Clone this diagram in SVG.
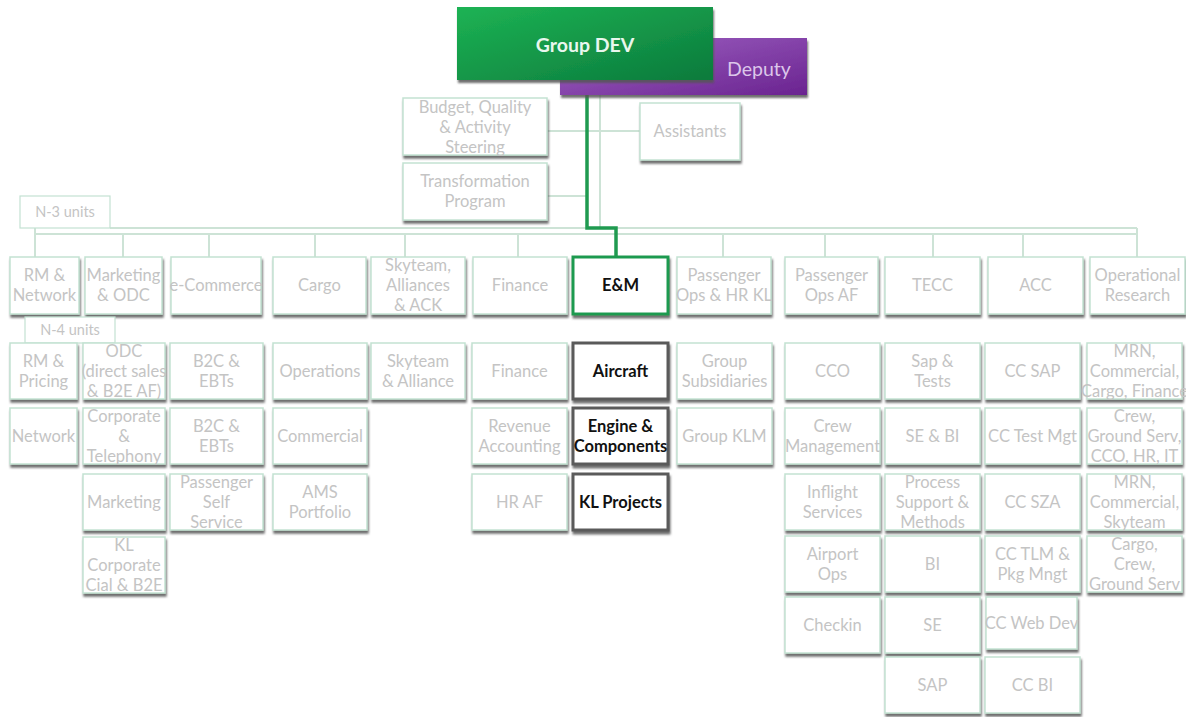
<svg xmlns="http://www.w3.org/2000/svg" width="1186" height="717" viewBox="0 0 1186 717">
  <defs>
    <linearGradient id="gDev" x1="0" y1="0" x2="1" y2="1">
      <stop offset="0" stop-color="#1db354"/>
      <stop offset="1" stop-color="#0b7a3c"/>
    </linearGradient>
    <linearGradient id="gDep" x1="0" y1="0" x2="1" y2="1">
      <stop offset="0" stop-color="#a064c4"/>
      <stop offset="1" stop-color="#6a2390"/>
    </linearGradient>
    <filter id="sh" x="-10%" y="-10%" width="125%" height="135%">
      <feDropShadow dx="1" dy="3" stdDeviation="1.3" flood-color="#555" flood-opacity="0.85"/>
    </filter>
    <style>
      .box { fill: #ffffff; stroke: #c3e2d2; stroke-width: 1.5; filter: url(#sh); }
      .em { fill: #ffffff; stroke: #1f9a50; stroke-width: 3; filter: url(#sh); }
      .sel { fill: #ffffff; stroke: #5a5a5a; stroke-width: 3; filter: url(#sh); }
      text { font-family: "Lato", "Carlito", "Liberation Sans", sans-serif; font-size: 16.5px; text-anchor: middle; }
      .lbl { fill: #c4c4c4; }
      .bold { fill: #111111; font-weight: bold; }
      .link { fill: none; stroke: #cde3d6; stroke-width: 2; }
      .main { fill: none; stroke: #1f9a50; stroke-width: 3.5; }
    </style>
  </defs>

  <!-- connectors -->
  <g id="connectors">
    <line class="link" x1="600" y1="95" x2="600" y2="228"/>
    <line class="link" x1="547" y1="131" x2="640" y2="131"/>
    <line class="link" x1="547" y1="196" x2="587" y2="196"/>
    <line class="link" x1="110" y1="228" x2="1137" y2="228"/>
    <line class="link" x1="35" y1="234" x2="1137" y2="234"/>
    <line class="link" x1="35" y1="228" x2="35" y2="257"/>
    <line class="link" x1="123" y1="234" x2="123" y2="257"/>
    <line class="link" x1="209" y1="234" x2="209" y2="257"/>
    <line class="link" x1="315" y1="234" x2="315" y2="257"/>
    <line class="link" x1="405" y1="234" x2="405" y2="257"/>
    <line class="link" x1="518" y1="234" x2="518" y2="257"/>
    <line class="link" x1="723" y1="234" x2="723" y2="257"/>
    <line class="link" x1="825" y1="234" x2="825" y2="257"/>
    <line class="link" x1="933" y1="234" x2="933" y2="257"/>
    <line class="link" x1="1023" y1="234" x2="1023" y2="257"/>
    <line class="link" x1="1137" y1="228" x2="1137" y2="257"/>
    <path class="main" d="M587 80 V228 H616 V257"/>
  </g>

  <!-- head -->
  <g id="deputy">
    <rect x="560" y="38" width="247" height="57" fill="url(#gDep)" filter="url(#sh)"/>
    <text x="759" y="76" fill="#dcc6ea" style="font-size:19.5px">Deputy</text>
  </g>
  <g id="group-dev">
    <rect x="457" y="7" width="256" height="73" fill="url(#gDev)" filter="url(#sh)"/>
    <text x="585" y="52" style="font-size:19.5px;font-weight:bold" fill="#e9f7ee">Group DEV</text>
  </g>

  <g id="budget">
    <rect class="box" x="403" y="98" width="144" height="57"/>
    <text class="lbl" x="475" y="113">Budget, Quality</text>
    <text class="lbl" x="475" y="133">&amp; Activity</text>
    <text class="lbl" x="475" y="153">Steering</text>
  </g>
  <g id="transformation">
    <rect class="box" x="403" y="163" width="144" height="57"/>
    <text class="lbl" x="475" y="187">Transformation</text>
    <text class="lbl" x="475" y="207">Program</text>
  </g>
  <g id="assistants">
    <rect class="box" x="640" y="103" width="100" height="57"/>
    <text class="lbl" x="690" y="137">Assistants</text>
  </g>

  <g id="n3-units">
    <rect x="20" y="196" width="90" height="32" fill="#fff" stroke="#c3e2d2" stroke-width="1.2"/>
    <text class="lbl" x="65" y="217" style="font-size:14.5px">N-3 units</text>
  </g>

  <!-- N-3 units row -->
  <g id="rm-network">
    <rect class="box" x="10" y="257" width="69" height="57"/>
    <text class="lbl" x="44.5" y="281">RM &amp;</text>
    <text class="lbl" x="44.5" y="301">Network</text>
  </g>
  <g id="marketing-odc">
    <rect class="box" x="85" y="257" width="77" height="57"/>
    <text class="lbl" x="123.5" y="281">Marketing</text>
    <text class="lbl" x="123.5" y="301">&amp; ODC</text>
  </g>
  <g id="e-commerce">
    <rect class="box" x="171" y="257" width="90" height="57"/>
    <text class="lbl" x="216" y="291">e-Commerce</text>
  </g>
  <g id="cargo">
    <rect class="box" x="273" y="257" width="93" height="57"/>
    <text class="lbl" x="319.5" y="291">Cargo</text>
  </g>
  <g id="skyteam-ack">
    <rect class="box" x="371" y="257" width="94" height="57"/>
    <text class="lbl" x="418" y="271">Skyteam,</text>
    <text class="lbl" x="418" y="291">Alliances</text>
    <text class="lbl" x="418" y="311">&amp; ACK</text>
  </g>
  <g id="finance">
    <rect class="box" x="473" y="257" width="94" height="57"/>
    <text class="lbl" x="520" y="291">Finance</text>
  </g>
  <g id="em">
    <rect class="em" x="573" y="257" width="95" height="57"/>
    <text class="bold" x="620.5" y="291">E&amp;M</text>
  </g>
  <g id="pax-ops-hr-kl">
    <rect class="box" x="677" y="257" width="94" height="57"/>
    <text class="lbl" x="724" y="281">Passenger</text>
    <text class="lbl" x="724" y="301">Ops &amp; HR KL</text>
  </g>
  <g id="pax-ops-af">
    <rect class="box" x="785" y="257" width="93" height="57"/>
    <text class="lbl" x="831.5" y="281">Passenger</text>
    <text class="lbl" x="831.5" y="301">Ops AF</text>
  </g>
  <g id="tecc">
    <rect class="box" x="885" y="257" width="95" height="57"/>
    <text class="lbl" x="932.5" y="291">TECC</text>
  </g>
  <g id="acc">
    <rect class="box" x="988" y="257" width="95" height="57"/>
    <text class="lbl" x="1035.5" y="291">ACC</text>
  </g>
  <g id="operational-research">
    <rect class="box" x="1090" y="257" width="95" height="57"/>
    <text class="lbl" x="1137.5" y="281">Operational</text>
    <text class="lbl" x="1137.5" y="301">Research</text>
  </g>

  <g id="n4-units">
    <rect x="25" y="317" width="90" height="26" fill="#fff" stroke="#c3e2d2" stroke-width="1.2"/>
    <text class="lbl" x="70" y="335" style="font-size:14.5px">N-4 units</text>
  </g>

  <!-- N-4 units: RM & Network -->
  <g id="rm-pricing">
    <rect class="box" x="10" y="343" width="67" height="56"/>
    <text class="lbl" x="43.5" y="366.5">RM &amp;</text>
    <text class="lbl" x="43.5" y="386.5">Pricing</text>
  </g>
  <g id="network">
    <rect class="box" x="10" y="408" width="67" height="56"/>
    <text class="lbl" x="43.5" y="441.5">Network</text>
  </g>

  <!-- N-4 units: Marketing & ODC -->
  <g id="odc">
    <rect class="box" x="83" y="343" width="82" height="56"/>
    <text class="lbl" x="124" y="356.5">ODC</text>
    <text class="lbl" x="124" y="376.5">(direct sales</text>
    <text class="lbl" x="124" y="396.5">&amp; B2E AF)</text>
  </g>
  <g id="corporate-telephony">
    <rect class="box" x="83" y="408" width="82" height="56"/>
    <text class="lbl" x="124" y="421.5">Corporate</text>
    <text class="lbl" x="124" y="441.5">&amp;</text>
    <text class="lbl" x="124" y="461.5">Telephony</text>
  </g>
  <g id="marketing">
    <rect class="box" x="83" y="474" width="82" height="56"/>
    <text class="lbl" x="124" y="507.5">Marketing</text>
  </g>
  <g id="kl-corporate">
    <rect class="box" x="83" y="537" width="82" height="56"/>
    <text class="lbl" x="124" y="550.5">KL</text>
    <text class="lbl" x="124" y="570.5">Corporate</text>
    <text class="lbl" x="124" y="590.5">Cial &amp; B2E</text>
  </g>

  <!-- N-4 units: e-Commerce -->
  <g id="b2c-ebts-1">
    <rect class="box" x="170" y="343" width="93" height="56"/>
    <text class="lbl" x="216.5" y="366.5">B2C &amp;</text>
    <text class="lbl" x="216.5" y="386.5">EBTs</text>
  </g>
  <g id="b2c-ebts-2">
    <rect class="box" x="170" y="408" width="93" height="56"/>
    <text class="lbl" x="216.5" y="431.5">B2C &amp;</text>
    <text class="lbl" x="216.5" y="451.5">EBTs</text>
  </g>
  <g id="pax-self-service">
    <rect class="box" x="170" y="474" width="93" height="56"/>
    <text class="lbl" x="216.5" y="487.5">Passenger</text>
    <text class="lbl" x="216.5" y="507.5">Self</text>
    <text class="lbl" x="216.5" y="527.5">Service</text>
  </g>

  <!-- N-4 units: Cargo -->
  <g id="operations">
    <rect class="box" x="273" y="343" width="94" height="56"/>
    <text class="lbl" x="320" y="376.5">Operations</text>
  </g>
  <g id="commercial">
    <rect class="box" x="273" y="408" width="94" height="56"/>
    <text class="lbl" x="320" y="441.5">Commercial</text>
  </g>
  <g id="ams-portfolio">
    <rect class="box" x="273" y="474" width="94" height="56"/>
    <text class="lbl" x="320" y="497.5">AMS</text>
    <text class="lbl" x="320" y="517.5">Portfolio</text>
  </g>

  <!-- N-4 units: Skyteam -->
  <g id="skyteam-alliance">
    <rect class="box" x="371" y="343" width="94" height="56"/>
    <text class="lbl" x="418" y="366.5">Skyteam</text>
    <text class="lbl" x="418" y="386.5">&amp; Alliance</text>
  </g>

  <!-- N-4 units: Finance -->
  <g id="finance-sub">
    <rect class="box" x="472" y="343" width="95" height="56"/>
    <text class="lbl" x="519.5" y="376.5">Finance</text>
  </g>
  <g id="revenue-accounting">
    <rect class="box" x="472" y="408" width="95" height="56"/>
    <text class="lbl" x="519.5" y="431.5">Revenue</text>
    <text class="lbl" x="519.5" y="451.5">Accounting</text>
  </g>
  <g id="hr-af">
    <rect class="box" x="472" y="474" width="95" height="56"/>
    <text class="lbl" x="519.5" y="507.5">HR AF</text>
  </g>

  <!-- N-4 units: E&M -->
  <g id="aircraft">
    <rect class="sel" x="573" y="343" width="95" height="56"/>
    <text class="bold" x="620.5" y="376.5">Aircraft</text>
  </g>
  <g id="engine-components">
    <rect class="sel" x="573" y="408" width="95" height="56"/>
    <text class="bold" x="620.5" y="431.5">Engine &amp;</text>
    <text class="bold" x="620.5" y="451.5">Components</text>
  </g>
  <g id="kl-projects">
    <rect class="sel" x="573" y="474" width="95" height="56"/>
    <text class="bold" x="620.5" y="507.5">KL Projects</text>
  </g>

  <!-- N-4 units: Passenger Ops & HR KL -->
  <g id="group-subsidiaries">
    <rect class="box" x="677" y="343" width="95" height="56"/>
    <text class="lbl" x="724.5" y="366.5">Group</text>
    <text class="lbl" x="724.5" y="386.5">Subsidiaries</text>
  </g>
  <g id="group-klm">
    <rect class="box" x="677" y="408" width="95" height="56"/>
    <text class="lbl" x="724.5" y="441.5">Group KLM</text>
  </g>

  <!-- N-4 units: Passenger Ops AF -->
  <g id="cco">
    <rect class="box" x="785" y="343" width="95" height="56"/>
    <text class="lbl" x="832.5" y="376.5">CCO</text>
  </g>
  <g id="crew-management">
    <rect class="box" x="785" y="408" width="95" height="56"/>
    <text class="lbl" x="832.5" y="431.5">Crew</text>
    <text class="lbl" x="832.5" y="451.5">Management</text>
  </g>
  <g id="inflight-services">
    <rect class="box" x="785" y="474" width="95" height="56"/>
    <text class="lbl" x="832.5" y="497.5">Inflight</text>
    <text class="lbl" x="832.5" y="517.5">Services</text>
  </g>
  <g id="airport-ops">
    <rect class="box" x="785" y="536" width="95" height="56"/>
    <text class="lbl" x="832.5" y="559.5">Airport</text>
    <text class="lbl" x="832.5" y="579.5">Ops</text>
  </g>
  <g id="checkin">
    <rect class="box" x="785" y="597" width="95" height="56"/>
    <text class="lbl" x="832.5" y="630.5">Checkin</text>
  </g>

  <!-- N-4 units: TECC -->
  <g id="sap-tests">
    <rect class="box" x="885" y="343" width="95" height="56"/>
    <text class="lbl" x="932.5" y="366.5">Sap &amp;</text>
    <text class="lbl" x="932.5" y="386.5">Tests</text>
  </g>
  <g id="se-bi">
    <rect class="box" x="885" y="408" width="95" height="56"/>
    <text class="lbl" x="932.5" y="441.5">SE &amp; BI</text>
  </g>
  <g id="process-support">
    <rect class="box" x="885" y="474" width="95" height="56"/>
    <text class="lbl" x="932.5" y="487.5">Process</text>
    <text class="lbl" x="932.5" y="507.5">Support &amp;</text>
    <text class="lbl" x="932.5" y="527.5">Methods</text>
  </g>
  <g id="bi">
    <rect class="box" x="885" y="536" width="95" height="56"/>
    <text class="lbl" x="932.5" y="569.5">BI</text>
  </g>
  <g id="se">
    <rect class="box" x="885" y="597" width="95" height="56"/>
    <text class="lbl" x="932.5" y="630.5">SE</text>
  </g>
  <g id="sap">
    <rect class="box" x="885" y="657" width="95" height="56"/>
    <text class="lbl" x="932.5" y="690.5">SAP</text>
  </g>

  <!-- N-4 units: ACC -->
  <g id="cc-sap">
    <rect class="box" x="985" y="343" width="95" height="56"/>
    <text class="lbl" x="1032.5" y="376.5">CC SAP</text>
  </g>
  <g id="cc-test-mgt">
    <rect class="box" x="985" y="408" width="95" height="56"/>
    <text class="lbl" x="1032.5" y="441.5">CC Test Mgt</text>
  </g>
  <g id="cc-sza">
    <rect class="box" x="985" y="474" width="95" height="56"/>
    <text class="lbl" x="1032.5" y="507.5">CC SZA</text>
  </g>
  <g id="cc-tlm">
    <rect class="box" x="985" y="536" width="95" height="56"/>
    <text class="lbl" x="1032.5" y="559.5">CC TLM &amp;</text>
    <text class="lbl" x="1032.5" y="579.5">Pkg Mngt</text>
  </g>
  <g id="cc-web-dev">
    <rect class="box" x="986" y="597" width="91" height="52"/>
    <text class="lbl" x="1031.5" y="628.5">CC Web Dev</text>
  </g>
  <g id="cc-bi">
    <rect class="box" x="985" y="657" width="95" height="56"/>
    <text class="lbl" x="1032.5" y="690.5">CC BI</text>
  </g>

  <!-- N-4 units: Operational Research -->
  <g id="or-1">
    <rect class="box" x="1087" y="343" width="95" height="56"/>
    <text class="lbl" x="1134.5" y="356.5">MRN,</text>
    <text class="lbl" x="1134.5" y="376.5">Commercial,</text>
    <text class="lbl" x="1134.5" y="396.5">Cargo, Finance</text>
  </g>
  <g id="or-2">
    <rect class="box" x="1087" y="408" width="95" height="56"/>
    <text class="lbl" x="1134.5" y="421.5">Crew,</text>
    <text class="lbl" x="1134.5" y="441.5">Ground Serv,</text>
    <text class="lbl" x="1134.5" y="461.5">CCO, HR, IT</text>
  </g>
  <g id="or-3">
    <rect class="box" x="1087" y="474" width="95" height="56"/>
    <text class="lbl" x="1134.5" y="487.5">MRN,</text>
    <text class="lbl" x="1134.5" y="507.5">Commercial,</text>
    <text class="lbl" x="1134.5" y="527.5">Skyteam</text>
  </g>
  <g id="or-4">
    <rect class="box" x="1087" y="536" width="95" height="56"/>
    <text class="lbl" x="1134.5" y="549.5">Cargo,</text>
    <text class="lbl" x="1134.5" y="569.5">Crew,</text>
    <text class="lbl" x="1134.5" y="589.5">Ground Serv</text>
  </g>
</svg>
